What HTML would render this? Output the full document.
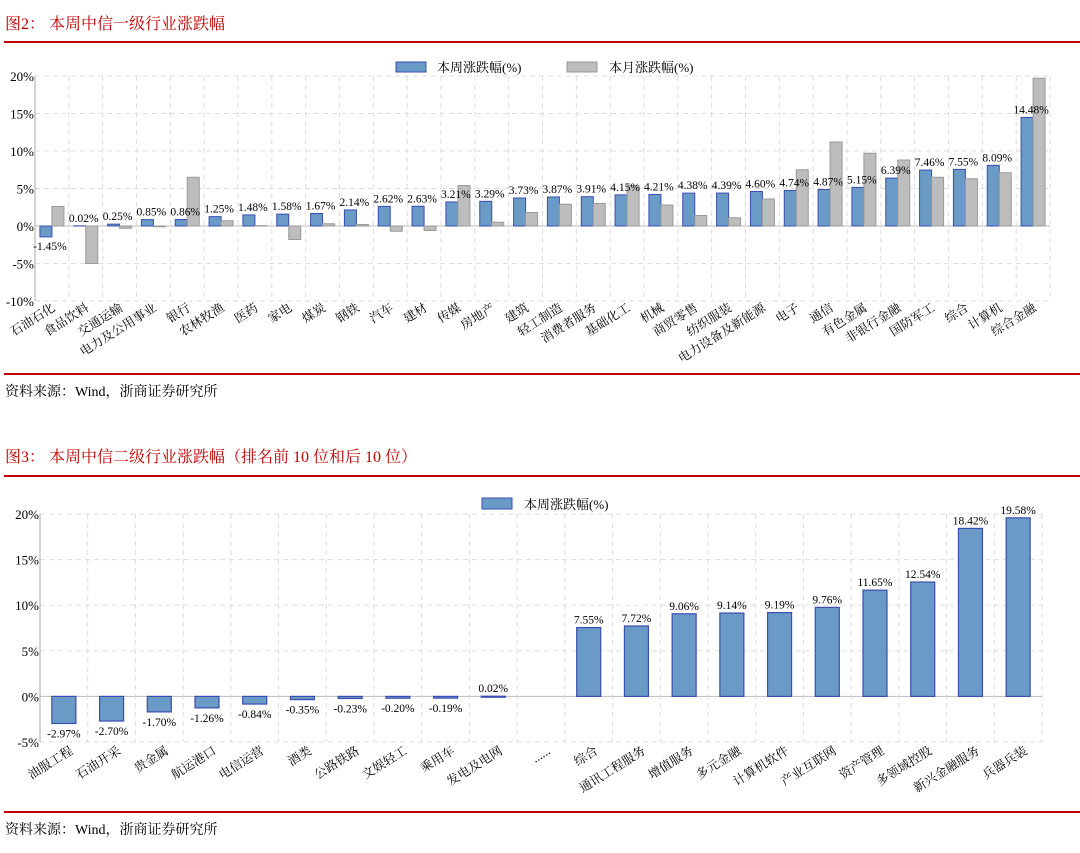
<!DOCTYPE html>
<html><head><meta charset="utf-8"><style>
body{margin:0;background:#fff;width:1080px;height:853px;overflow:hidden}
svg{display:block}
text{font-family:"Liberation Serif","Noto Serif CJK SC",serif}
</style></head><body>
<svg id="svg" width="1080" height="853" xmlns="http://www.w3.org/2000/svg">
<text x="5" y="29" font-size="16" fill="#c00000">图2：  本周中信一级行业涨跌幅</text>
<line x1="4" y1="42" x2="1080" y2="42" stroke="#c00000" stroke-width="2"/>
<line x1="4" y1="374" x2="1080" y2="374" stroke="#c00000" stroke-width="2"/>
<text x="5" y="396" font-size="14" fill="#000">资料来源：Wind，浙商证券研究所</text>
<text x="5" y="462" font-size="16" fill="#c00000">图3：  本周中信二级行业涨跌幅（排名前 10 位和后 10 位）</text>
<line x1="4" y1="476" x2="1080" y2="476" stroke="#c00000" stroke-width="2"/>
<line x1="4" y1="812" x2="1080" y2="812" stroke="#c00000" stroke-width="2"/>
<text x="5" y="834" font-size="14" fill="#000">资料来源：Wind，浙商证券研究所</text>
<g id="c1"></g>
<g id="c2"></g>
</svg>
<script>
const cats1=["石油石化","食品饮料","交通运输","电力及公用事业","银行","农林牧渔","医药","家电","煤炭","钢铁","汽车","建材","传媒","房地产","建筑","轻工制造","消费者服务","基础化工","机械","商贸零售","纺织服装","电力设备及新能源","电子","通信","有色金属","非银行金融","国防军工","综合","计算机","综合金融"];
const week1=[-1.45,0.02,0.25,0.85,0.86,1.25,1.48,1.58,1.67,2.14,2.62,2.63,3.21,3.29,3.73,3.87,3.91,4.15,4.21,4.38,4.39,4.60,4.74,4.87,5.15,6.39,7.46,7.55,8.09,14.48];
const month1=[2.6,-5.0,-0.3,-0.1,6.5,0.7,0.05,-1.8,0.3,0.2,-0.7,-0.6,5.4,0.5,1.8,2.9,3.0,5.4,2.8,1.4,1.1,3.6,7.5,11.2,9.7,8.8,6.5,6.3,7.1,19.7];
const ticks1=[20,15,10,5,0,-5,-10];
const cats2=["油服工程","石油开采","贵金属","航运港口","电信运营","酒类","公路铁路","文娱轻工","乘用车","发电及电网","......","综合","通讯工程服务","增值服务","多元金融","计算机软件","产业互联网","资产管理","多领域控股","新兴金融服务","兵器兵装"];
const week2=[-2.97,-2.70,-1.70,-1.26,-0.84,-0.35,-0.23,-0.20,-0.19,0.02,null,7.55,7.72,9.06,9.14,9.19,9.76,11.65,12.54,18.42,19.58];
const ticks2=[20,15,10,5,0,-5];
const NS="http://www.w3.org/2000/svg";
function mk(p,t,a,txt){const e=document.createElementNS(NS,t);for(const k in a)e.setAttribute(k,a[k]);if(txt!=null)e.textContent=txt;p.appendChild(e);return e;}
const fmt=v=>v.toFixed(2)+"%";

(function(){
const g=document.getElementById('c1');
const L=35,R=1050,yTop=76,yBot=301,vmax=20,vmin=-10;
const y=v=>yTop+(vmax-v)/(vmax-vmin)*(yBot-yTop);
const cw=(R-L)/cats1.length;const x=i=>L+i*cw;
ticks1.forEach(t=>{
 const l=mk(g,'line',{x1:L,x2:R,y1:y(t),y2:y(t),stroke:t===0?'#bbb':'#ddd','stroke-dasharray':t===0?'':'5,4'});
 
 const tx=mk(g,'text',{x:L-1,y:y(t)+5,'font-size':13,'text-anchor':'end'},t+'%');
 
});
for(let i=1;i<=cats1.length;i++){const l=mk(g,'line',{x1:x(i),x2:x(i),y1:yTop,y2:yBot,stroke:'#ddd','stroke-dasharray':'5,4'});
 }
const ax=mk(g,'line',{x1:L,x2:L,y1:yTop,y2:yBot,stroke:'#aaa'});
const bw=12;
cats1.forEach((c,i)=>{
 const cx=x(i)+cw/2;
 const w=week1[i],m=month1[i];
 const b=mk(g,'rect',{x:cx-bw,y:Math.min(y(w),y(0)),width:bw,height:Math.abs(y(w)-y(0)),fill:'#6a9bc6',stroke:'#3a4db0','stroke-width':1});
 
 const b2=mk(g,'rect',{x:cx,y:Math.min(y(m),y(0)),width:bw,height:Math.abs(y(m)-y(0)),fill:'#bdbdbd',stroke:'#999','stroke-width':1});
 
 const ly=w>=0?y(w)-4:y(w)+13;
 const t=mk(g,'text',{x:cx-bw/2+4,y:ly,'font-size':11.5,'text-anchor':'middle'},fmt(w));
 
 const lb=mk(g,'text',{x:cx+4,y:yBot+9,'font-size':12.5,'text-anchor':'end',transform:`rotate(-32 ${cx+4} ${yBot+9})`},c);
 
});
const lg=mk(g,'g',{});
const r1=mk(lg,'rect',{x:396,y:62,width:30,height:10,fill:'#6a9bc6',stroke:'#3a4db0'});
const t1=mk(lg,'text',{x:437,y:72,'font-size':13},'本周涨跌幅(%)');
const r2=mk(lg,'rect',{x:567,y:62,width:30,height:10,fill:'#bdbdbd',stroke:'#999'});
const t2=mk(lg,'text',{x:609,y:72,'font-size':13},'本月涨跌幅(%)');
})();

(function(){
const g=document.getElementById('c2');
const L=40,R=1042,yTop=514,yBot=742,vmax=20,vmin=-5;
const y=v=>yTop+(vmax-v)/(vmax-vmin)*(yBot-yTop);
const cw=(R-L)/cats2.length;const x=i=>L+i*cw;
ticks2.forEach(t=>{
 const l=mk(g,'line',{x1:L,x2:R,y1:y(t),y2:y(t),stroke:t===0?'#bbb':'#ddd','stroke-dasharray':t===0?'':'5,4'});
 
 const tx=mk(g,'text',{x:L-1,y:y(t)+5,'font-size':13,'text-anchor':'end'},t+'%');
 
});
for(let i=1;i<=cats2.length;i++){const l=mk(g,'line',{x1:x(i),x2:x(i),y1:yTop,y2:yBot,stroke:'#ddd','stroke-dasharray':'5,4'});
 }
const ax=mk(g,'line',{x1:L,x2:L,y1:yTop,y2:yBot,stroke:'#aaa'});
const bw=24;
cats2.forEach((c,i)=>{
 const cx=x(i)+cw/2;
 const w=week2[i];
 if(w!==null){
 const b=mk(g,'rect',{x:cx-bw/2,y:Math.min(y(w),y(0)),width:bw,height:Math.max(1,Math.abs(y(w)-y(0))),fill:'#6a9bc6',stroke:'#3a4db0','stroke-width':1.2});
 
 const ly=w>=0?y(w)-4:y(w)+14;
 const t=mk(g,'text',{x:cx,y:ly,'font-size':11.5,'text-anchor':'middle'},fmt(w));
 
 }
 const lb=mk(g,'text',{x:cx+10,y:yBot+11,'font-size':12.5,'text-anchor':'end',transform:`rotate(-32 ${cx+10} ${yBot+11})`},c);
 
});
const lg=mk(g,'g',{});
const r1=mk(lg,'rect',{x:482,y:498,width:30,height:11,fill:'#6a9bc6',stroke:'#3a4db0'});
const t1=mk(lg,'text',{x:524,y:509,'font-size':13},'本周涨跌幅(%)');
})();
</script>
</body></html>
